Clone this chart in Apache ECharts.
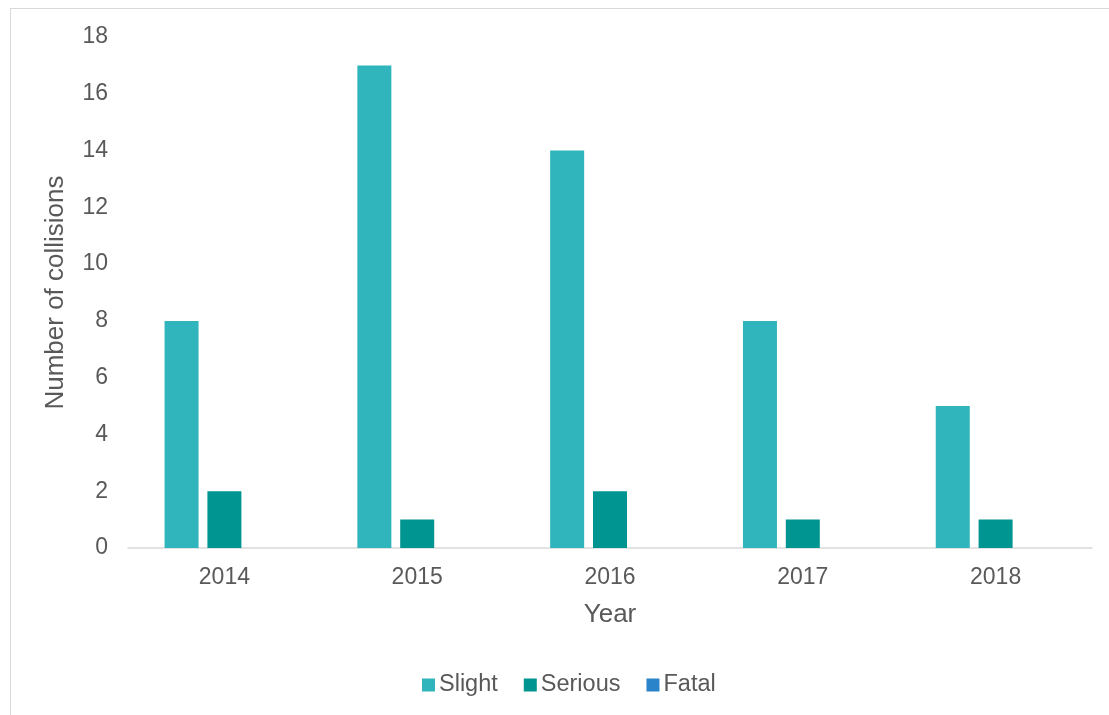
<!DOCTYPE html>
<html>
<head>
<meta charset="utf-8">
<script src="https://cdn.jsdelivr.net/npm/echarts@6/dist/echarts.min.js"></script>
<style>
  html, body { margin: 0; padding: 0; background: #fff; }
  #frame { position: absolute; left: 10px; top: 8px; width: 1110px; height: 720px; border: 1px solid #d9d9d9; }
  #main { position: absolute; left: 0; top: 0; width: 1109px; height: 715px; }
</style>
</head>
<body>
<div id="frame"></div>
<div id="main"></div>
<script>
  // 年份与各类碰撞数
  const years = ['2014', '2015', '2016', '2017', '2018'];
  const slight = [8, 17, 14, 8, 5];
  const serious = [2, 1, 2, 1, 1];
  const fatal = [0, 0, 0, 0, 0];

  let font = 'Liberation Sans, Arial, sans-serif';
  let myChart = echarts.init(document.getElementById('main'));
  let option = {
    animation: false,
    legend: {
      data: ['Slight', 'Serious', 'Fatal'],
      bottom: 13,
      left: 417,
      itemWidth: 13,
      itemHeight: 13,
      itemGap: 26,
      icon: 'rect',
      textStyle: { color: '#595959', fontSize: 23.5, fontFamily: font, padding: [0, 0, 0, -1] }
    },
    grid: {
      left: 128,
      right: 17,
      top: 37,
      bottom: 167
    },
    xAxis: {
      type: 'category',
      data: years,
      name: 'Year',
      nameLocation: 'middle',
      nameGap: 54,
      nameTextStyle: { color: '#595959', fontSize: 26, fontFamily: font },
      axisLine: { lineStyle: { color: '#d9d9d9', width: 1.5 } },
      axisTick: { show: false },
      axisLabel: { color: '#595959', fontSize: 23, fontFamily: font, margin: 18 }
    },
    yAxis: {
      type: 'value',
      min: 0,
      max: 18,
      interval: 2,
      name: 'Number of collisions',
      nameLocation: 'middle',
      nameGap: 59,
      nameTextStyle: { color: '#595959', fontSize: 26, fontFamily: font },
      splitLine: { show: false },
      axisLine: { show: false },
      axisTick: { show: false },
      axisLabel: { color: '#595959', fontSize: 23, fontFamily: font, margin: 20 }
    },
    series: [
      { name: 'Slight', type: 'bar', data: slight, barWidth: 34, barGap: '26%', itemStyle: { color: '#30B5BC' } },
      { name: 'Serious', type: 'bar', data: serious, barWidth: 34, itemStyle: { color: '#009590' } },
      { name: 'Fatal', type: 'bar', data: fatal, barWidth: 34, itemStyle: { color: '#2A84C9' } }
    ]
  };
  myChart.setOption(option);
</script>
</body>
</html>
